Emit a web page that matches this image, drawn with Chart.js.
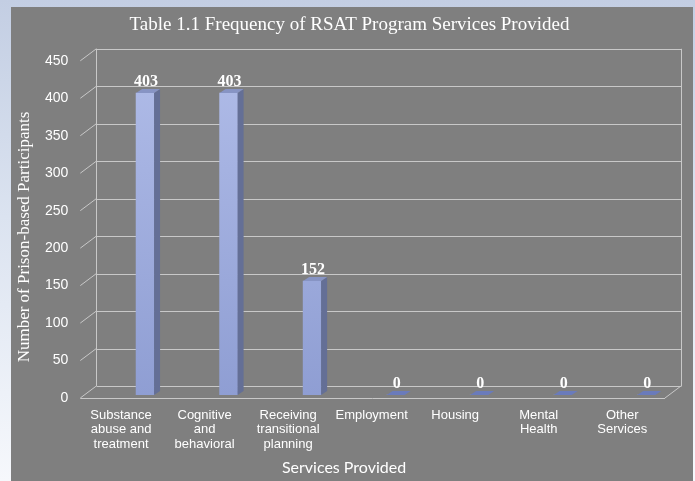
<!DOCTYPE html>
<html>
<head>
<meta charset="utf-8">
<script src="https://cdn.jsdelivr.net/npm/chart.js@4.4.1/dist/chart.umd.min.js"></script>
<style>
  html, body { margin: 0; padding: 0; }
  body {
    width: 695px; height: 481px; overflow: hidden; position: relative;
    background: linear-gradient(to bottom, #c3cee3 0%, #dbe3f0 45%, #f6f8fc 100%);
  }
  #panel { position: absolute; left: 11px; top: 7px; width: 682px; height: 474px; background: #7f7f7f; }
  #wrap { position: absolute; left: 0; top: 0; width: 695px; height: 481px; }
</style>
</head>
<body>
<div id="panel"></div>
<div id="wrap"><canvas id="servicesChart" width="695" height="481"></canvas></div>
<script>
const chartTitle = 'Table 1.1 Frequency of RSAT Program Services Provided';
const yTitle = 'Number of Prison-based Participants';
const xTitle = 'Services Provided';

const categories = [
  ['Substance', 'abuse and', 'treatment'],
  ['Cognitive', 'and', 'behavioral'],
  ['Receiving', 'transitional', 'planning'],
  'Employment',
  'Housing',
  ['Mental', 'Health'],
  ['Other', 'Services']
];
const participants = [403, 403, 152, 0, 0, 0, 0];
const yTicks = [0, 50, 100, 150, 200, 250, 300, 350, 400, 450];

// 3D look: back wall and front floor are offsets from the bar plane
const BACK = { x: -7, y: -9 };
const FRONT = { x: -23, y: 3 };
const DEPTH = { x: 6, y: -4 };

const wallPlugin = {
  id: 'wall',
  beforeDatasetsDraw(chart) {
    const { ctx, chartArea: a, scales: { y } } = chart;
    const L = a.left, R = a.right;
    const px = v => Math.round(v) + 0.5;
    ctx.save();
    ctx.strokeStyle = '#c8c8c8';
    ctx.lineWidth = 1;
    ctx.beginPath();
    yTicks.forEach(v => {
      const yy = y.getPixelForValue(v);
      ctx.moveTo(px(L + BACK.x), px(yy + BACK.y));
      ctx.lineTo(px(R + BACK.x), px(yy + BACK.y));
      ctx.moveTo(L + FRONT.x, yy + FRONT.y);
      ctx.lineTo(L + BACK.x, yy + BACK.y);
    });
    const top = y.getPixelForValue(450), bot = y.getPixelForValue(0);
    ctx.moveTo(px(L + BACK.x), top + BACK.y);
    ctx.lineTo(px(L + BACK.x), bot + BACK.y);
    ctx.moveTo(px(R + BACK.x), top + BACK.y);
    ctx.lineTo(px(R + BACK.x), bot + BACK.y);
    ctx.moveTo(L + FRONT.x, px(bot + FRONT.y));
    ctx.lineTo(R + FRONT.x, px(bot + FRONT.y));
    ctx.moveTo(R + FRONT.x, bot + FRONT.y);
    ctx.lineTo(R + BACK.x, bot + BACK.y);
    ctx.stroke();
    ctx.restore();
  },
  afterDatasetsDraw(chart) {
    const { ctx } = chart;
    const meta = chart.getDatasetMeta(0);
    ctx.save();
    meta.data.forEach((bar, i) => {
      const hw = bar.width / 2;
      const x0 = bar.x - hw, x1 = bar.x + hw;
      const yt = bar.y, yb = bar.base;
      // side face
      if (yb - yt > 0.5) {
        ctx.fillStyle = '#646f96';
        ctx.beginPath();
        ctx.moveTo(x1, yt);
        ctx.lineTo(x1 + DEPTH.x, yt + DEPTH.y);
        ctx.lineTo(x1 + DEPTH.x, yb + DEPTH.y);
        ctx.lineTo(x1, yb);
        ctx.closePath();
        ctx.fill();
      }
      // top face
      ctx.fillStyle = participants[i] > 0 ? '#8794c4' : '#6a7bbb';
      ctx.beginPath();
      ctx.moveTo(x0, yt);
      ctx.lineTo(x1, yt);
      ctx.lineTo(x1 + DEPTH.x, yt + DEPTH.y);
      ctx.lineTo(x0 + DEPTH.x, yt + DEPTH.y);
      ctx.closePath();
      ctx.fill();
      // value label
      ctx.fillStyle = '#ffffff';
      ctx.font = 'bold 16px "Liberation Serif", serif';
      ctx.textAlign = 'center';
      ctx.textBaseline = 'alphabetic';
      ctx.fillText(String(participants[i]), bar.x + 1, yt - 7);
    });
    ctx.restore();
  },
  afterDraw(chart) {
    const { ctx } = chart;
    ctx.save();
    ctx.fillStyle = '#ffffff';
    ctx.textAlign = 'center';
    ctx.textBaseline = 'middle';
    ctx.font = '17px "Liberation Serif", serif';
    ctx.translate(25, 237);
    ctx.rotate(-Math.PI / 2);
    ctx.fillText(yTitle, 0, 0);
    ctx.restore();
    ctx.save();
    ctx.fillStyle = '#ffffff';
    ctx.textAlign = 'center';
    ctx.textBaseline = 'middle';
    ctx.font = '16px Lato, sans-serif';
    ctx.fillText(xTitle, 344, 468);
    ctx.restore();
  }
};

const ctx = document.getElementById('servicesChart').getContext('2d');

const servicesChart = new Chart(ctx, {
  type: 'bar',
  data: {
    labels: categories,
    datasets: [{
      data: participants,
      barThickness: 18,
      borderWidth: 0,
      backgroundColor: (c) => {
        const area = c.chart.chartArea;
        if (!area) return '#a0aede';
        const g = c.chart.ctx.createLinearGradient(0, area.top, 0, area.bottom);
        g.addColorStop(0, '#b0bce8');
        g.addColorStop(1, '#8f9ed3');
        return g;
      }
    }]
  },
  options: {
    responsive: false,
    animation: false,
    layout: { padding: { left: 11, right: 7, top: 7, bottom: 0 } },
    plugins: {
      legend: { display: false },
      tooltip: { enabled: false },
      title: {
        display: true,
        text: chartTitle,
        color: '#ffffff',
        font: { family: '"Liberation Serif", serif', size: 19, weight: 'normal' },
        padding: { top: 7, bottom: 21 }
      }
    },
    scales: {
      x: {
        grid: { display: false },
        border: { display: false },
        ticks: {
          color: '#ffffff',
          font: { family: '"Liberation Sans", Arial, sans-serif', size: 13, lineHeight: 1.12 },
          padding: 5,
          labelOffset: -24,
          maxRotation: 0,
          autoSkip: false
        },
        afterFit: (s) => { s.height = 86; }
      },
      y: {
        min: 0,
        max: 450,
        grid: { display: false },
        border: { display: false },
        ticks: {
          stepSize: 50,
          color: '#ffffff',
          font: { family: '"Liberation Sans", Arial, sans-serif', size: 14 },
          padding: 27,
          labelOffset: 3
        },
        afterFit: (s) => { s.width = 92.3; }
      }
    }
  },
  plugins: [wallPlugin]
});
</script>
</body>
</html>
